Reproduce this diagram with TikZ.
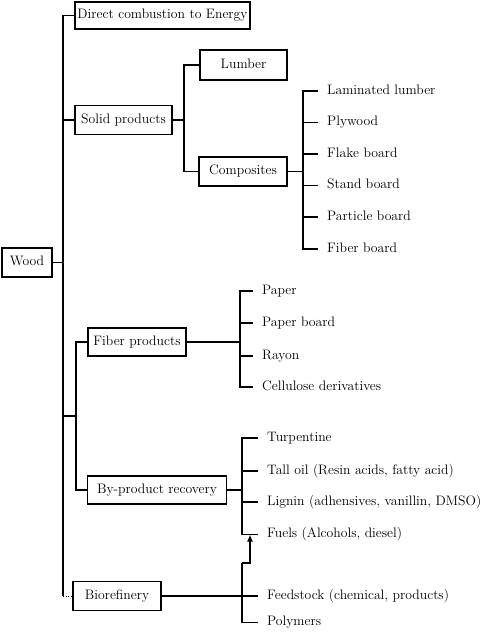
\documentclass[tikz,border=0pt]{standalone}
\usetikzlibrary{arrows.meta}
\begin{document}
\begin{tikzpicture}[x=1pt,y=-1pt,
  box/.style={draw, line width=1.8pt, inner sep=0pt, text height=9.5pt, text depth=3.2pt, font=\fontsize{13.7}{16}\selectfont},
  leaf/.style={anchor=west, inner xsep=9pt, inner ysep=0pt, text height=9.5pt, text depth=3.2pt, font=\fontsize{13.7}{16}\selectfont},
  conn/.style={line width=1.8pt},
  dots/.style={line width=1pt, dash pattern=on 1pt off 1.5pt}]
\useasboundingbox[fill=white] (0,0) rectangle (480,632);

% boxes
\node[box, minimum width=175pt, minimum height=27pt] (dce) at (162.5,15.5) {Direct combustion to Energy};
\node[box, minimum width=50pt, minimum height=29pt] (wood) at (27,262.5) {Wood};
\node[box, minimum width=97pt, minimum height=29pt] (solid) at (123.5,120) {Solid products};
\node[box, minimum width=87pt, minimum height=30pt] (lumber) at (243.5,65) {Lumber};
\node[box, minimum width=88pt, minimum height=29pt] (comp) at (243,171.5) {Composites};
\node[box, minimum width=98pt, minimum height=28pt] (fiber) at (137,342) {Fiber products};
\node[box, minimum width=139pt, minimum height=28pt] (byp) at (157,490) {By-product recovery};
\node[box, minimum width=88pt, minimum height=29pt] (bio) at (117,596) {Biorefinery};

% junction coordinates
\coordinate (tk) at (63,0);
\coordinate (st) at (76,416);
\coordinate (sj) at (184,120);
\coordinate (cj) at (303,171.5);
\coordinate (fj) at (240,342);
\coordinate (bj) at (242,490);
\coordinate (ak) at (250,563);

% composite leaves
\node[leaf] (c1) at (318,91) {Laminated lumber};
\node[leaf] (c2) at (318,122.5) {Plywood};
\node[leaf] (c3) at (318,154) {Flake board};
\node[leaf] (c4) at (318,185.5) {Stand board};
\node[leaf] (c5) at (318,217) {Particle board};
\node[leaf] (c6) at (318,249) {Fiber board};

% fiber leaves
\node[leaf] (f1) at (253,291) {Paper};
\node[leaf] (f2) at (253,323) {Paper board};
\node[leaf] (f3) at (253,356) {Rayon};
\node[leaf] (f4) at (253,387) {Cellulose derivatives};

% by-product leaves
\node[leaf] (b1) at (258,438) {Turpentine};
\node[leaf] (b2) at (258,471) {Tall oil (Resin acids, fatty acid)};
\node[leaf] (b3) at (258,502) {Lignin (adhensives, vanillin, DMSO)};
\node[leaf] (b4) at (258,534.5) {Fuels (Alcohols, diesel)};

% biorefinery leaves
\node[leaf] (r1) at (258,596) {Feedstock (chemical, products)};
\node[leaf] (r2) at (258,622.5) {Polymers};

% trunk
\draw[conn] (dce.west) -| (tk |- bio.west);
\draw[dots] (tk |- bio.west) -- (bio.west);
\draw[conn] (wood.east) -- (tk |- wood.east);
\draw[conn] (solid.west) -- (tk |- solid.west);
\draw[conn] (tk |- st) -- (st);
\draw[conn] (fiber.west) -| (st |- byp.west) -- (byp.west);

% solid products
\draw[conn] (solid.east) -- (sj);
\draw[conn] (lumber.west) -| (sj |- comp.west) -- (comp.west);

% composites
\draw[conn] (comp.east) -- (cj);
\draw[conn] (c1.west) -| (cj |- c6.west) -- (c6.west);
\foreach \n in {c2,c3,c4,c5} \draw[conn] (cj |- \n.west) -- (\n.west);

% fiber
\draw[conn] (fiber.east) -- (fj);
\draw[conn] (f1.west) -| (fj |- f4.west) -- (f4.west);
\foreach \n in {f2,f3} \draw[conn] (fj |- \n.west) -- (\n.west);

% by-product
\draw[conn] (byp.east) -- (bj);
\draw[conn] (b1.west) -| (bj |- b4.west) -- (b4.west);
\foreach \n in {b2,b3} \draw[conn] (bj |- \n.west) -- (\n.west);

% biorefinery
\draw[conn] (bio.east) -- (r1.west);
\draw[conn] (bj |- ak) |- (r2.west);
\draw[conn, -{Latex[length=7pt,width=6pt]}] (bj |- ak) -- (ak) -- (ak |- b4.west);
\end{tikzpicture}
\end{document}
